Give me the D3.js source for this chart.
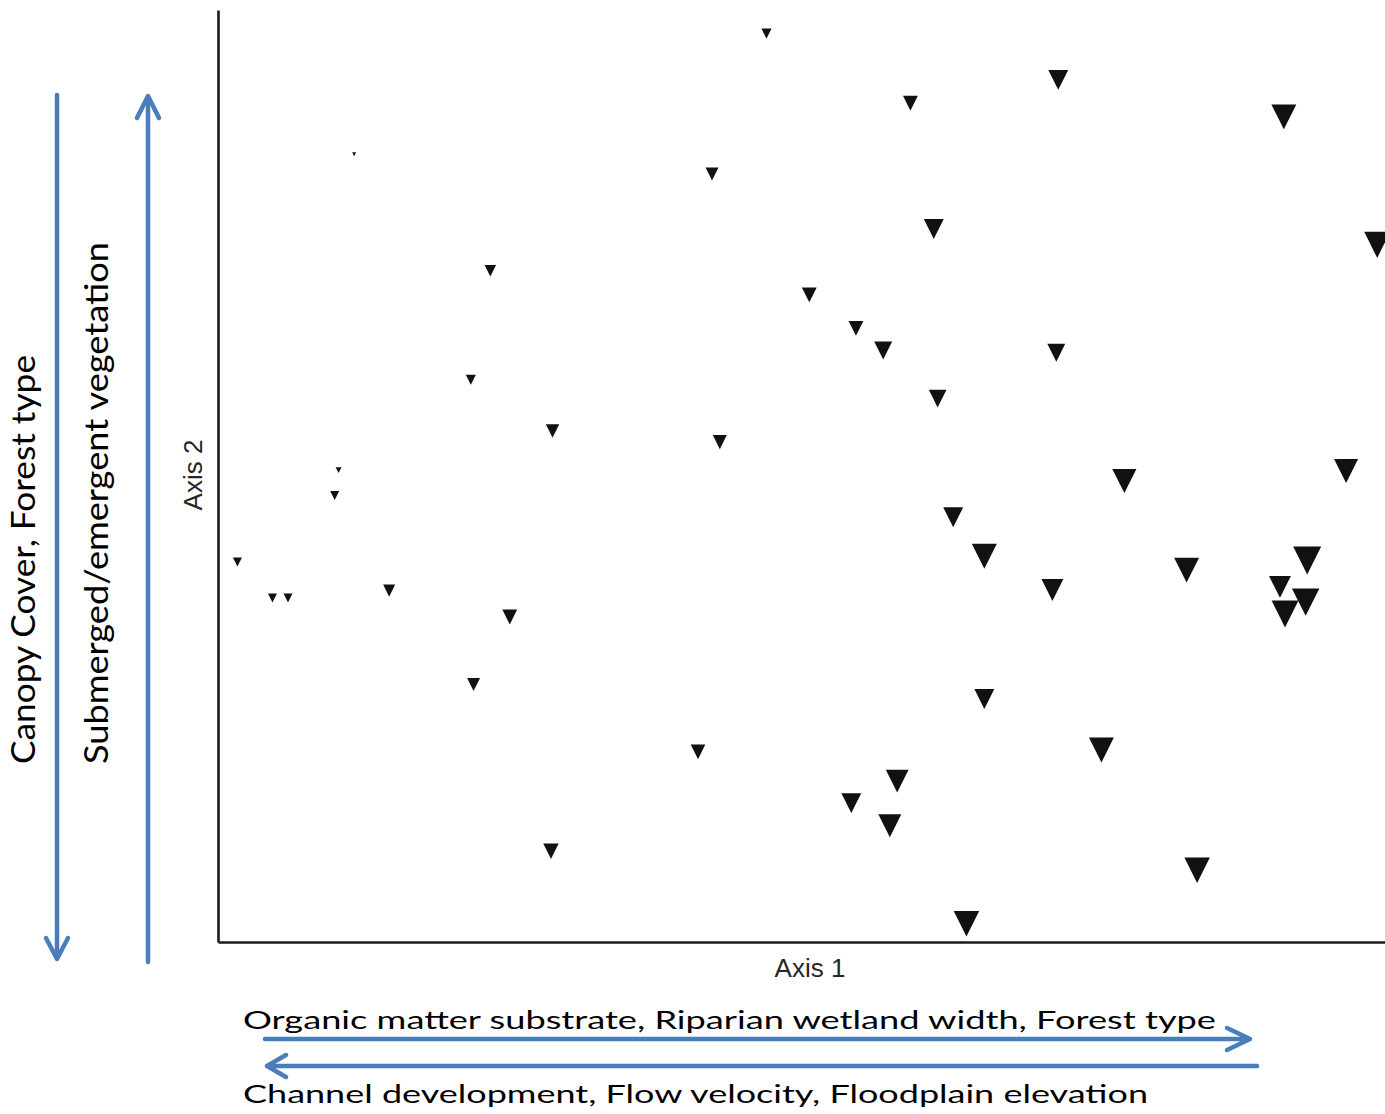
<!DOCTYPE html>
<html>
<head>
<meta charset="utf-8">
<script src="https://cdn.jsdelivr.net/npm/d3@7"></script>
<style>
  html, body { margin: 0; padding: 0; background: #fff; }
  svg { display: block; }
</style>
</head>
<body>
<svg id="chart" width="1385" height="1114"></svg>
<script>
// ---- Data: NMS site scores (Axis 1, Axis 2) and relative symbol size ----
const axis1 = [-0.09, 0.28, 0.66, 1.24, -1.15, -0.23, 0.34, 1.48, -0.80, 0.02,
               0.14, 0.21, 0.655, -0.85, 0.35, -0.64, -0.21, -1.19, 0.83, 1.40,
               -1.20, 0.39, 0.47, -1.45, -1.36, -1.32, -1.06, 0.645, 0.99, 1.30,
               1.23, 1.296, 1.243, -0.75, -0.843, 0.47, -0.266, 0.771, 0.246, 0.128,
               0.227, -0.644, 1.017, 0.424];
const axis2 = [1.424, 1.20, 1.275, 1.156, 1.036, 0.972, 0.795, 0.744, 0.661, 0.583,
               0.475, 0.404, 0.397, 0.310, 0.249, 0.145, 0.109, 0.019, -0.016, 0.016,
               -0.063, -0.133, -0.2585, -0.277, -0.393, -0.393, -0.369, -0.367, -0.303, -0.272,
               -0.357, -0.406, -0.444, -0.454, -0.671, -0.718, -0.888, -0.882, -0.982, -1.053,
               -1.126, -1.208, -1.269, -1.441];
const sizeVar = [0.29, 0.46, 0.64, 0.82, 0.07, 0.39, 0.64, 0.86, 0.34, 0.46,
                 0.46, 0.57, 0.57, 0.29, 0.56, 0.41, 0.43, 0.14, 0.79, 0.79,
                 0.25, 0.64, 0.82, 0.25, 0.25, 0.25, 0.36, 0.71, 0.82, 0.93,
                 0.71, 0.91, 0.89, 0.46, 0.39, 0.64, 0.45, 0.82, 0.74, 0.64,
                 0.75, 0.48, 0.84, 0.84];
const axisLabels = ["Axis 1", "Axis 2"];
const xGradientLabels = ["Organic matter substrate, Riparian wetland width, Forest type",
                         "Channel development, Flow velocity, Floodplain elevation"];
const yGradientLabels = ["Canopy Cover, Forest type", "Submerged/emergent vegetation"];

const points = axis1.map((v, i) => ({ x: v, y: axis2[i], s: sizeVar[i] }));

const svg = d3.select("#chart");
svg.append("rect").attr("width", 1385).attr("height", 1114).attr("fill", "#fff");

const x = d3.scaleLinear().domain([-1.5, 1.5]).range([218, 1385]);
const y = d3.scaleLinear().domain([-1.5, 1.5]).range([942, 10]);
const w = d3.scaleLinear().domain([0, 1]).range([2, 30]);

// Axes (no ticks)
const gx = svg.append("g").attr("transform", "translate(0,942)")
  .call(d3.axisBottom(x).tickValues([]).tickSizeOuter(0));
const gy = svg.append("g").attr("transform", "translate(218,0)")
  .call(d3.axisLeft(y).tickValues([]).tickSizeOuter(0));
[gx, gy].forEach(g => g.select(".domain").attr("stroke", "#1a1a1a").attr("stroke-width", 2.6));

// Points: downward triangles
svg.append("g").selectAll("path").data(points).join("path")
  .attr("d", d => {
    const cx = x(d.x), cy = y(d.y), ww = w(d.s), hh = ww;
    return `M${cx - ww / 2},${cy - hh / 2}L${cx + ww / 2},${cy - hh / 2}L${cx},${cy + hh / 2}Z`;
  })
  .attr("fill", "#111");

// Axis titles
svg.append("text").text(axisLabels[0])
  .attr("x", 810).attr("y", 977).attr("text-anchor", "middle")
  .attr("font-family", "Liberation Sans, Arial, sans-serif").attr("font-size", 26)
  .attr("fill", "#262626");
svg.append("text").text(axisLabels[1])
  .attr("transform", "translate(202,475) rotate(-90)").attr("text-anchor", "middle")
  .attr("font-family", "Liberation Sans, Arial, sans-serif").attr("font-size", 26)
  .attr("fill", "#262626");

// Gradient arrows
const blue = "#4A7EBB";
const arrows = svg.append("g").attr("stroke", blue).attr("stroke-width", 4.5)
  .attr("fill", "none").attr("stroke-linecap", "round").attr("stroke-linejoin", "round");
const line = d3.line();
// horizontal right arrow
arrows.append("path").attr("d", line([[265, 1039], [1249, 1039]]));
arrows.append("path").attr("d", line([[1227, 1028], [1250, 1039], [1227, 1050]]));
// horizontal left arrow
arrows.append("path").attr("d", line([[268, 1066], [1257, 1066]]));
arrows.append("path").attr("d", line([[286, 1055], [267, 1066], [286, 1077]]));
// vertical down arrow
arrows.append("path").attr("d", line([[57, 95], [57, 958]]));
arrows.append("path").attr("d", line([[46, 938], [57, 959], [68, 938]]));
// vertical up arrow
arrows.append("path").attr("d", line([[148, 962], [148, 97]]));
arrows.append("path").attr("d", line([[137, 118], [148, 96], [159, 118]]));

// Gradient labels
const gradFont = "Lato, 'Open Sans', sans-serif";
svg.append("text").text(xGradientLabels[0])
  .attr("x", 243).attr("y", 1029)
  .attr("font-family", gradFont).attr("font-size", 24.6).attr("fill", "#000")
  .attr("textLength", 973).attr("lengthAdjust", "spacingAndGlyphs");
svg.append("text").text(xGradientLabels[1])
  .attr("x", 243).attr("y", 1103)
  .attr("font-family", gradFont).attr("font-size", 24.6).attr("fill", "#000")
  .attr("textLength", 905).attr("lengthAdjust", "spacingAndGlyphs");
svg.append("text").text(yGradientLabels[0])
  .attr("transform", "translate(35,764) rotate(-90)")
  .attr("font-family", gradFont).attr("font-size", 33).attr("fill", "#000")
  .attr("textLength", 409).attr("lengthAdjust", "spacingAndGlyphs");
svg.append("text").text(yGradientLabels[1])
  .attr("transform", "translate(108,764) rotate(-90)")
  .attr("font-family", gradFont).attr("font-size", 33).attr("fill", "#000")
  .attr("textLength", 522).attr("lengthAdjust", "spacingAndGlyphs");
</script>
</body>
</html>
